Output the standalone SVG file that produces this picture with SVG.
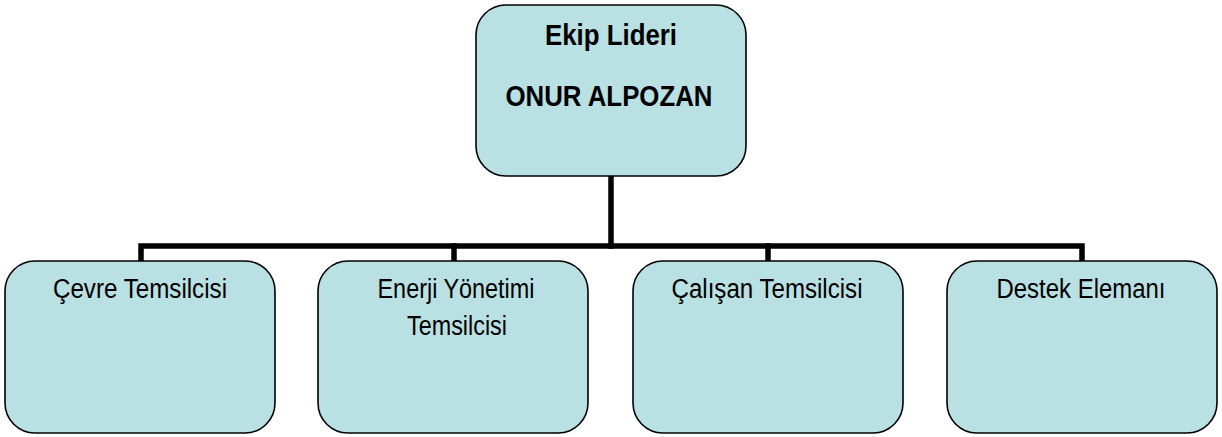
<svg xmlns="http://www.w3.org/2000/svg" width="1222" height="437" viewBox="0 0 1222 437">
<style>
.box{fill:#B9E0E3;stroke:#000;stroke-width:1.6}
.t{font-family:"Liberation Sans",Arial,sans-serif;font-size:27px;fill:#000;text-anchor:middle}
.b{font-family:"Liberation Sans",Arial,sans-serif;font-size:29px;font-weight:bold;fill:#000;text-anchor:middle}
.c{fill:none;stroke:#000;stroke-width:5.5;stroke-linecap:square;stroke-linejoin:miter}
</style>
<rect width="1222" height="437" fill="#fff"/>
<g id="connectors">
<path class="c" d="M611,178 V246"/>
<path class="c" d="M141,259 V246 H1082 V259"/>
<path class="c" d="M454,246 V259"/>
<path class="c" d="M768,246 V259"/>
</g>
<g id="node-leader">
<rect class="box" x="476" y="5" width="270" height="171" rx="30" ry="30"/>
<text class="b" x="611" y="45" textLength="132" lengthAdjust="spacingAndGlyphs">Ekip Lideri</text>
<text class="b" x="609" y="106" textLength="207" lengthAdjust="spacingAndGlyphs">ONUR ALPOZAN</text>
</g>
<g id="node-cevre">
<rect class="box" x="5" y="261" width="270" height="172" rx="30" ry="30"/>
<text class="t" x="140" y="298" textLength="174" lengthAdjust="spacingAndGlyphs">Çevre Temsilcisi</text>
</g>
<g id="node-enerji">
<rect class="box" x="318" y="261" width="270" height="172" rx="30" ry="30"/>
<text class="t" x="456" y="298" textLength="157" lengthAdjust="spacingAndGlyphs">Enerji Yönetimi</text>
<text class="t" x="457" y="335" textLength="100" lengthAdjust="spacingAndGlyphs">Temsilcisi</text>
</g>
<g id="node-calisan">
<rect class="box" x="633" y="261" width="270" height="172" rx="30" ry="30"/>
<text class="t" x="767" y="298" textLength="191" lengthAdjust="spacingAndGlyphs">Çalışan Temsilcisi</text>
</g>
<g id="node-destek">
<rect class="box" x="947" y="261" width="270" height="172" rx="30" ry="30"/>
<text class="t" x="1081" y="298" textLength="169" lengthAdjust="spacingAndGlyphs">Destek Elemanı</text>
</g>
</svg>
